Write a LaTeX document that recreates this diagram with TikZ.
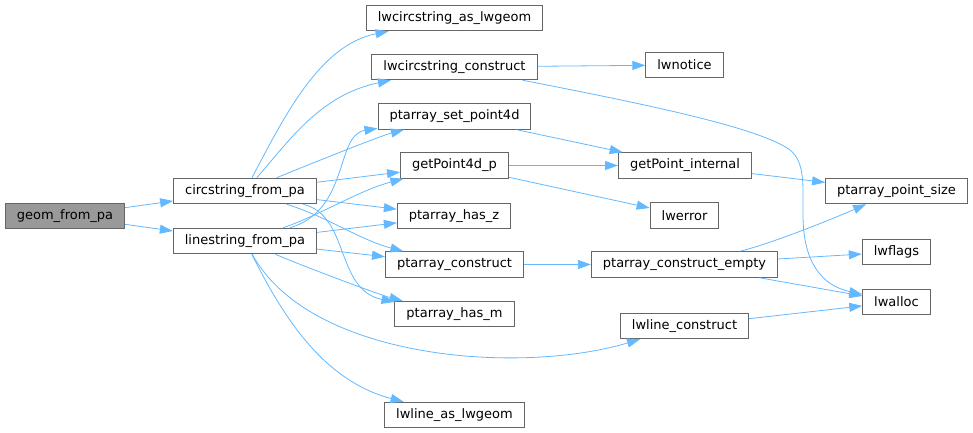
\documentclass[tikz,border=0pt]{standalone}
\usepackage{fontspec}
\setmainfont{DejaVu Sans}
\usetikzlibrary{arrows.meta}
\definecolor{edgeblue}{HTML}{63B8FF}
\definecolor{boxgray}{HTML}{666666}
\definecolor{rootgray}{HTML}{999999}

\begin{document}
\begin{tikzpicture}[x=1pt,y=-1pt,>={Triangle[length=13pt,width=9pt]},
    fn/.style={draw=boxgray,line width=1pt,inner xsep=11.5pt,inner ysep=0pt,
      minimum height=25.5pt,font=\fontsize{13}{15}\selectfont},
    call/.style={->,draw=edgeblue,line width=0.8pt}]
      \useasboundingbox (0,0) rectangle (973,433);
      \node[fn,fill=rootgray] (geom) at (65,216) {geom\_from\_pa};
      \node[fn] (circ) at (245,191) {circstring\_from\_pa};
      \node[fn] (line) at (245,241) {linestring\_from\_pa};
      \node[fn] (asgeom) at (454.5,18) {lwcircstring\_as\_lwgeom};
      \node[fn] (lwcc) at (454.5,67) {lwcircstring\_construct};
      \node[fn] (setpt) at (454.5,116.5) {ptarray\_set\_point4d};
      \node[fn] (gp4d) at (454.5,165.5) {getPoint4d\_p};
      \node[fn] (hasz) at (454,216) {ptarray\_has\_z};
      \node[fn] (ptc) at (454.5,264.5) {ptarray\_construct};
      \node[fn] (hasm) at (454.5,314) {ptarray\_has\_m};
      \node[fn] (lasg) at (454.5,415) {lwline\_as\_lwgeom};
      \node[fn] (notice) at (684.5,65) {lwnotice};
      \node[fn] (gpi) at (685,165.5) {getPoint\_internal};
      \node[fn] (err) at (684.5,215.5) {lwerror};
      \node[fn] (ptce) at (684.5,264.5) {ptarray\_construct\_empty};
      \node[fn] (llc) at (684.5,326) {lwline\_construct};
      \node[fn] (psize) at (896.5,191) {ptarray\_point\_size};
      \node[fn] (flags) at (896.5,252) {lwflags};
      \node[fn] (alloc) at (896.5,302) {lwalloc};
      % first level
      \draw[call] (geom) -- (circ);
      \draw[call] (geom) -- (line);
      % circstring_from_pa
      \draw[call] (circ) .. controls (285,115) and (320,45) .. (asgeom);
      \draw[call] (circ) .. controls (290,140) and (320,95) .. (lwcc);
      \draw[call] (circ) .. controls (300,168) and (380,136) .. (setpt);
      \draw[call] (circ) -- (gp4d);
      \draw[call] (circ) -- (hasz);
      \draw[call] (circ) .. controls (330,218) and (360,240) .. (ptc);
      \draw[call] (circ) .. controls (350,215) and (335,290) .. (hasm);
      % linestring_from_pa
      \draw[call] (line) .. controls (350,210) and (335,135) .. (setpt);
      \draw[call] (line) .. controls (320,215) and (360,190) .. (gp4d);
      \draw[call] (line) -- (hasz);
      \draw[call] (line) -- (ptc);
      \draw[call] (line) .. controls (300,265) and (380,295) .. (hasm);
      \draw[call] (line) .. controls (280,310) and (320,380) .. (lasg);
      \draw[call] (line) .. controls (310,360) and (520,375) .. (llc);
      % third level
      \draw[call] (lwcc) -- (notice);
      \draw[call] (lwcc) .. controls (650,105) and (760,128) .. (790,150)
        .. controls (805,162) and (803,185) .. (803,215)
        .. controls (803,260) and (820,285) .. (alloc);
      \draw[call] (setpt) -- (gpi);
      \draw[call] (gp4d) -- (gpi);
      \draw[call] (gp4d) -- (err);
      \draw[call] (ptc) -- (ptce);
      \draw[call] (llc) -- (alloc);
      % last level
      \draw[call] (gpi) -- (psize);
      \draw[call] (ptce) .. controls (770,244) and (830,220) .. (psize);
      \draw[call] (ptce) -- (flags);
      \draw[call] (ptce) -- (alloc);
    \end{tikzpicture}
\end{document}
